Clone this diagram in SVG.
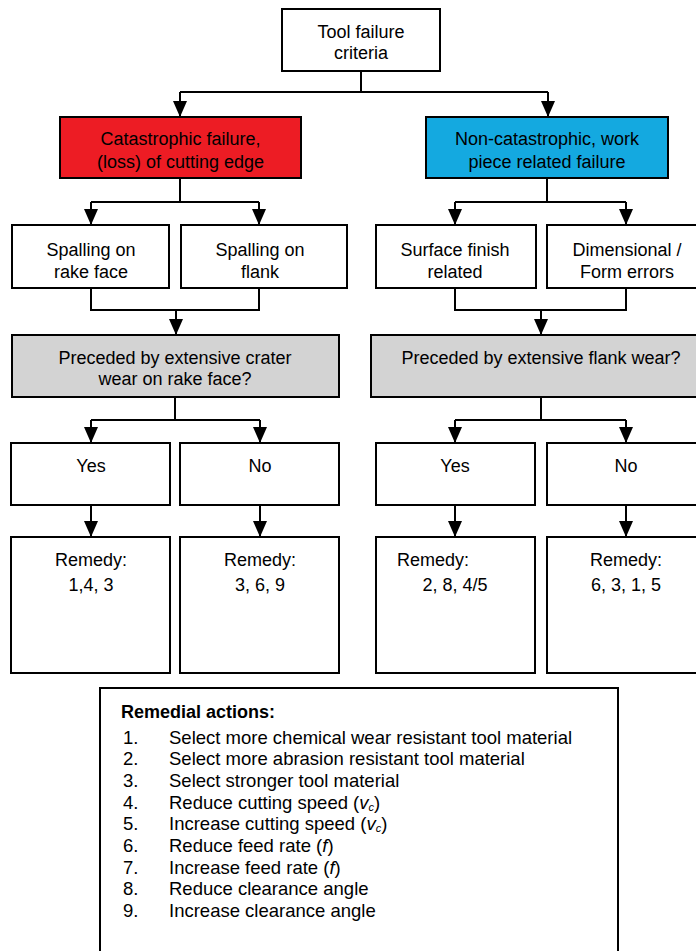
<svg xmlns="http://www.w3.org/2000/svg" width="696" height="951" viewBox="0 0 696 951">
<defs>
<marker id="ah" markerUnits="userSpaceOnUse" markerWidth="16" markerHeight="14" refX="16" refY="7" orient="auto">
<path d="M0,0 L16,7 L0,14 z" fill="#000"/>
</marker>
<style>
.b{fill:#fff;stroke:#000;stroke-width:2}
.t{font-family:"Liberation Sans",Arial,sans-serif;font-size:18px;fill:#000;text-anchor:middle}
.l{font-family:"Liberation Sans",Arial,sans-serif;font-size:18.5px;fill:#000}
.c{fill:none;stroke:#000;stroke-width:2}
.s{font-style:italic;font-size:11px}
</style>
</defs>
<rect width="696" height="951" fill="#fff"/>
<g id="connectors">
<path class="c" d="M361,71 V92 M180,92 H548"/>
<path class="c" d="M180,92 V117" marker-end="url(#ah)"/>
<path class="c" d="M548,92 V117" marker-end="url(#ah)"/>
<path class="c" d="M180,178 V202 M91,202 H259"/>
<path class="c" d="M91,202 V225" marker-end="url(#ah)"/>
<path class="c" d="M259,202 V225" marker-end="url(#ah)"/>
<path class="c" d="M91,288 V310 H259 V288"/>
<path class="c" d="M176,310 V335" marker-end="url(#ah)"/>
<path class="c" d="M547,178 V202 M455,202 H626"/>
<path class="c" d="M455,202 V225" marker-end="url(#ah)"/>
<path class="c" d="M626,202 V225" marker-end="url(#ah)"/>
<path class="c" d="M455,288 V310 H626 V288"/>
<path class="c" d="M541,310 V335" marker-end="url(#ah)"/>
<path class="c" d="M175,397 V420 M91,420 H260"/>
<path class="c" d="M91,420 V443" marker-end="url(#ah)"/>
<path class="c" d="M260,420 V443" marker-end="url(#ah)"/>
<path class="c" d="M541,397 V420 M455,420 H626"/>
<path class="c" d="M455,420 V443" marker-end="url(#ah)"/>
<path class="c" d="M626,420 V443" marker-end="url(#ah)"/>
<path class="c" d="M91,505 V537" marker-end="url(#ah)"/>
<path class="c" d="M260,505 V537" marker-end="url(#ah)"/>
<path class="c" d="M455,505 V537" marker-end="url(#ah)"/>
<path class="c" d="M626,505 V537" marker-end="url(#ah)"/>
</g>
<g id="root">
<rect class="b" x="282" y="9" width="158" height="62"/>
<text class="t" x="361" y="37.5">Tool failure</text>
<text class="t" x="361" y="58.5">criteria</text>
</g>
<g id="catastrophic">
<rect class="b" x="60" y="117" width="241" height="61" style="fill:#ED1C24"/>
<text class="t" x="180.5" y="144.5">Catastrophic failure,</text>
<text class="t" x="180.5" y="167.5">(loss) of cutting edge</text>
</g>
<g id="noncatastrophic">
<rect class="b" x="426" y="117" width="242" height="61" style="fill:#14A9E0"/>
<text class="t" x="547" y="144.5">Non-catastrophic, work</text>
<text class="t" x="547" y="167.5">piece related failure</text>
</g>
<g id="spalling-rake">
<rect class="b" x="12" y="225" width="157" height="63"/>
<text class="t" x="91" y="255.5">Spalling on</text>
<text class="t" x="91" y="277.5">rake face</text>
</g>
<g id="spalling-flank">
<rect class="b" x="181" y="225" width="166" height="63"/>
<text class="t" x="260" y="255.5">Spalling on</text>
<text class="t" x="260" y="277.5">flank</text>
</g>
<g id="surface-finish">
<rect class="b" x="376" y="225" width="160" height="63"/>
<text class="t" x="455" y="255.5">Surface finish</text>
<text class="t" x="455" y="277.5">related</text>
</g>
<g id="dimensional">
<rect class="b" x="547" y="225" width="160" height="63"/>
<text class="t" x="627" y="255.5">Dimensional /</text>
<text class="t" x="627" y="277.5">Form errors</text>
</g>
<g id="crater-question">
<rect class="b" x="12" y="335" width="327" height="62" style="fill:#D3D3D3"/>
<text class="t" x="175" y="363.5">Preceded by extensive crater</text>
<text class="t" x="175" y="384.5">wear on rake face?</text>
</g>
<g id="flank-question">
<rect class="b" x="371" y="335" width="330" height="62" style="fill:#D3D3D3"/>
<text class="t" x="541" y="363.5">Preceded by extensive flank wear?</text>
</g>
<g id="yes-left">
<rect class="b" x="11" y="443" width="159" height="62"/>
<text class="t" x="91" y="471.5">Yes</text>
</g>
<g id="no-left">
<rect class="b" x="180" y="443" width="159" height="62"/>
<text class="t" x="260" y="471.5">No</text>
</g>
<g id="yes-right">
<rect class="b" x="376" y="443" width="159" height="62"/>
<text class="t" x="455" y="471.5">Yes</text>
</g>
<g id="no-right">
<rect class="b" x="547" y="443" width="160" height="62"/>
<text class="t" x="626" y="471.5">No</text>
</g>
<g id="remedy-1">
<rect class="b" x="11" y="537" width="159" height="136"/>
<text class="t" x="91" y="565.5">Remedy:</text>
<text class="t" x="91" y="590.5">1,4, 3</text>
</g>
<g id="remedy-2">
<rect class="b" x="180" y="537" width="159" height="136"/>
<text class="t" x="260" y="565.5">Remedy:</text>
<text class="t" x="260" y="590.5">3, 6, 9</text>
</g>
<g id="remedy-3">
<rect class="b" x="376" y="537" width="159" height="136"/>
<text class="t" x="433" y="565.5">Remedy:</text>
<text class="t" x="455" y="590.5">2, 8, 4/5</text>
</g>
<g id="remedy-4">
<rect class="b" x="547" y="537" width="160" height="136"/>
<text class="t" x="626" y="565.5">Remedy:</text>
<text class="t" x="626" y="590.5">6, 3, 1, 5</text>
</g>
<g id="remedial-actions">
<rect class="b" x="100" y="688" width="518" height="280"/>
<text class="l" x="121" y="718" style="font-weight:bold;font-size:18px">Remedial actions:</text>
<text class="l" x="123" y="743.5">1.</text><text class="l" x="169" y="743.5">Select more chemical wear resistant tool material</text>
<text class="l" x="123" y="765">2.</text><text class="l" x="169" y="765">Select more abrasion resistant tool material</text>
<text class="l" x="123" y="787">3.</text><text class="l" x="169" y="787">Select stronger tool material</text>
<text class="l" x="123" y="808.5">4.</text><text class="l" x="169" y="808.5">Reduce cutting speed (<tspan font-style="italic">v</tspan><tspan class="s" dy="2">c</tspan><tspan dy="-2">)</tspan></text>
<text class="l" x="123" y="830">5.</text><text class="l" x="169" y="830">Increase cutting speed (<tspan font-style="italic">v</tspan><tspan class="s" dy="2">c</tspan><tspan dy="-2">)</tspan></text>
<text class="l" x="123" y="852">6.</text><text class="l" x="169" y="852">Reduce feed rate (<tspan font-style="italic">f</tspan>)</text>
<text class="l" x="123" y="873.5">7.</text><text class="l" x="169" y="873.5">Increase feed rate (<tspan font-style="italic">f</tspan>)</text>
<text class="l" x="123" y="895">8.</text><text class="l" x="169" y="895">Reduce clearance angle</text>
<text class="l" x="123" y="917">9.</text><text class="l" x="169" y="917">Increase clearance angle</text>
</g>
</svg>
